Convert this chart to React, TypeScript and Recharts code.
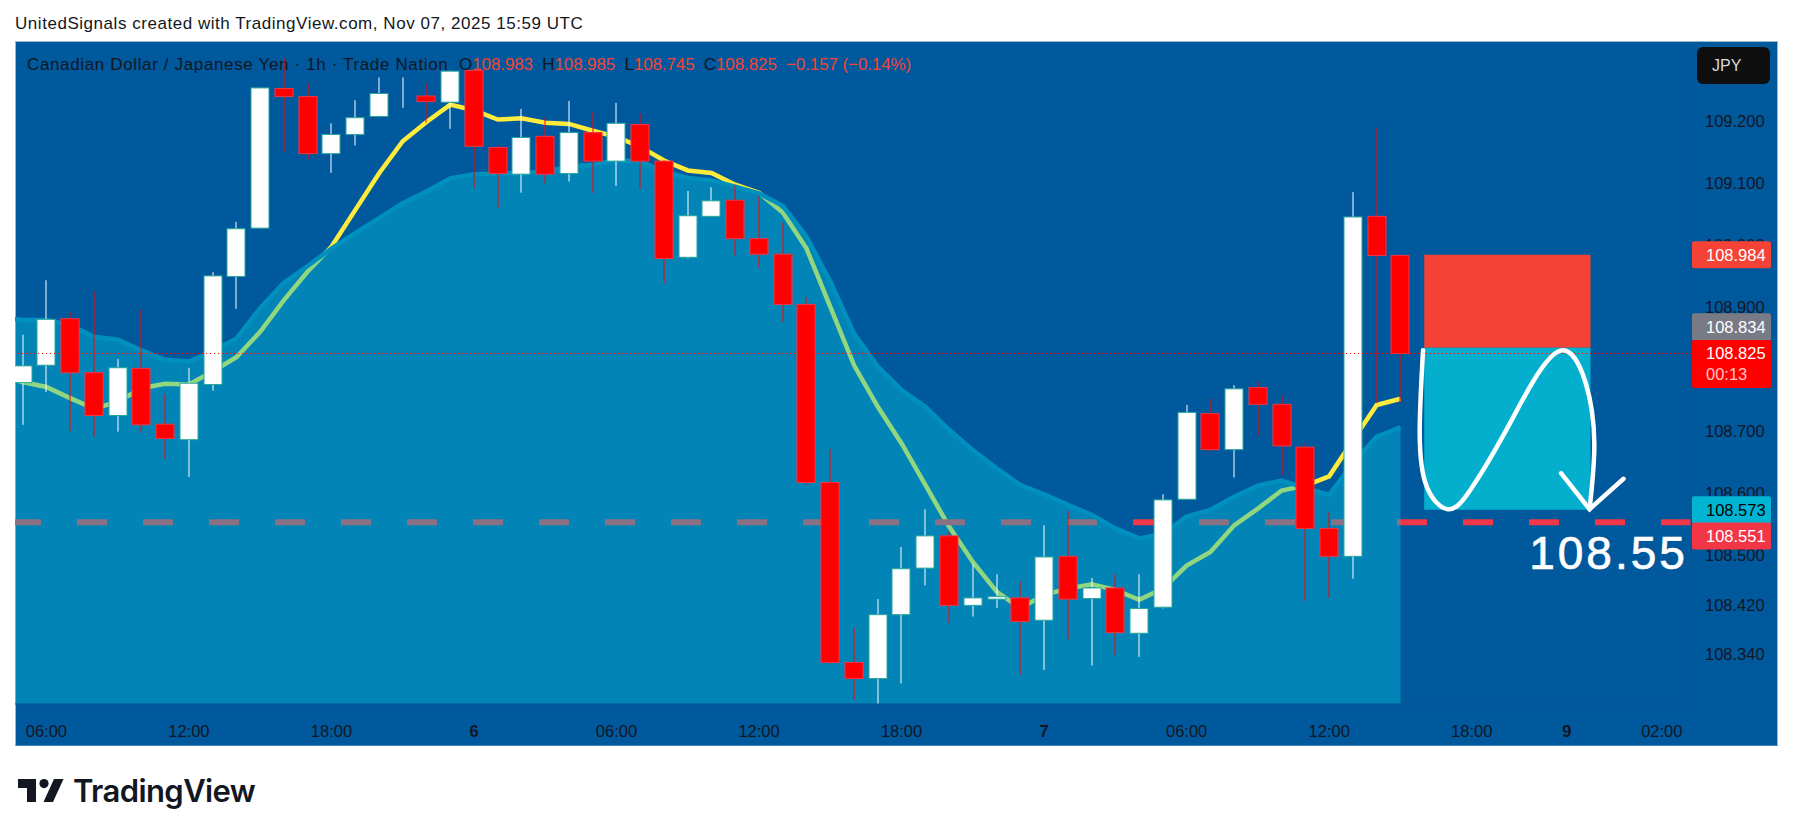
import {
	ComposedChart,
	Area,
	Bar,
	Line,
	XAxis,
	YAxis,
	ReferenceArea,
	ReferenceDot,
	ReferenceLine,
} from "recharts";

const OPENS = [
	108.778, 108.806, 108.881, 108.794, 108.725, 108.801, 108.711, 108.686, 108.775, 108.949,
	109.027, 109.252, 109.239, 109.147, 109.178, 109.207, 109.245, 109.24, 109.23, 109.281,
	109.157, 109.114, 109.175, 109.115, 109.181, 109.135, 109.194, 109.135, 108.98, 109.046,
	109.072, 109.01, 108.985, 108.904, 108.617, 108.327, 108.301, 108.404, 108.479, 108.531,
	108.419, 108.429, 108.431, 108.395, 108.498, 108.43, 108.447, 108.374, 108.416, 108.59,
	108.728, 108.67, 108.77, 108.743, 108.674, 108.543, 108.498, 109.046, 108.983,
];
const HIGHS = [
	108.855, 108.943, 108.892, 108.925, 108.816, 108.896, 108.76, 108.802, 108.956, 109.037,
	109.253, 109.301, 109.26, 109.196, 109.233, 109.27, 109.27, 109.26, 109.281, 109.281,
	109.16, 109.219, 109.205, 109.232, 109.214, 109.229, 109.212, 109.137, 109.087, 109.093,
	109.096, 109.079, 109.036, 108.915, 108.671, 108.383, 108.429, 108.513, 108.574, 108.538,
	108.486, 108.469, 108.458, 108.548, 108.571, 108.463, 108.469, 108.469, 108.598, 108.742,
	108.752, 108.774, 108.779, 108.757, 108.68, 108.569, 109.085, 109.189, 108.985,
];
const LOWS = [
	108.71, 108.763, 108.7, 108.691, 108.699, 108.697, 108.655, 108.626, 108.765, 108.897,
	109.027, 109.15, 109.138, 109.116, 109.16, 109.207, 109.221, 109.197, 109.187, 109.092,
	109.06, 109.084, 109.099, 109.102, 109.084, 109.095, 109.09, 108.938, 108.978, 109.046,
	108.983, 108.963, 108.876, 108.613, 108.325, 108.267, 108.258, 108.293, 108.451, 108.391,
	108.401, 108.415, 108.307, 108.315, 108.364, 108.322, 108.339, 108.336, 108.414, 108.59,
	108.667, 108.625, 108.693, 108.629, 108.426, 108.431, 108.462, 108.745, 108.745,
];
const CLOSES = [
	108.805, 108.88, 108.794, 108.725, 108.802, 108.71, 108.688, 108.777, 108.95, 109.026,
	109.253, 109.239, 109.147, 109.178, 109.205, 109.244, 109.245, 109.231, 109.28, 109.159,
	109.115, 109.173, 109.114, 109.181, 109.135, 109.196, 109.135, 108.978, 109.047, 109.071,
	109.01, 108.985, 108.904, 108.617, 108.327, 108.301, 108.404, 108.478, 108.531, 108.419,
	108.431, 108.433, 108.393, 108.497, 108.429, 108.447, 108.375, 108.414, 108.589, 108.73,
	108.67, 108.768, 108.743, 108.676, 108.543, 108.498, 109.045, 108.983, 108.825,
];
// the first value of both averages belongs to the bar just off the left edge
const FAST_AVG = [
	108.79, 108.779, 108.771, 108.753, 108.736, 108.747, 108.769, 108.776, 108.775, 108.796, 108.819,
	108.86, 108.911, 108.957, 108.997, 109.056, 109.115, 109.167, 109.198, 109.226, 109.217,
	109.202, 109.204, 109.197, 109.195, 109.184, 109.174, 109.158, 109.136, 109.12, 109.116,
	109.097, 109.084, 109.052, 108.994, 108.9, 108.806, 108.739, 108.68, 108.613, 108.546,
	108.489, 108.441, 108.414, 108.436, 108.446, 108.453, 108.444, 108.428, 108.446, 108.483,
	108.505, 108.548, 108.575, 108.604, 108.612, 108.627, 108.685, 108.742, 108.752,
];
const SLOW_AVG = [
	108.884, 108.879, 108.879, 108.871, 108.852, 108.847, 108.83, 108.815, 108.812, 108.828, 108.849,
	108.898, 108.939, 108.966, 108.994, 109.019, 109.043, 109.067, 109.086, 109.107, 109.114,
	109.115, 109.116, 109.118, 109.126, 109.129, 109.137, 109.134, 109.118, 109.108, 109.104,
	109.094, 109.083, 109.063, 109.013, 108.941, 108.857, 108.804, 108.766, 108.739, 108.702,
	108.669, 108.64, 108.613, 108.598, 108.581, 108.565, 108.543, 108.527, 108.534, 108.562,
	108.573, 108.594, 108.612, 108.62, 108.608, 108.597, 108.648, 108.691, 108.706,
];

const TIME_TICKS = [1, 7, 13, 19, 25, 31, 37, 43, 49, 55, 61, 65, 69];
const TIME_LABELS = ["06:00", "12:00", "18:00", "6", "06:00", "12:00", "18:00", "7", "06:00", "12:00", "18:00", "9", "02:00"];
const DAY_LABELS = ["6", "7", "9"];
const PRICE_TICKS = [109.2, 109.1, 109.0, 108.9, 108.7, 108.6, 108.5, 108.42, 108.34];

const TARGET_LINE = 108.553;
const LAST_PRICE = 108.825;
const STOP_PRICE = 108.984;
const ENTRY_PRICE = 108.834;
const PROFIT_PRICE = 108.573;
const POSITION_BARS = [59, 66];

const TAG_PRICES = [108.984, 108.834, 108.573, 108.551];
const TAG_BG = ["#F44336", "#787B86", "#00B4D2", "#F23645"];
const TAG_TEXT = ["#ffffff", "#ffffff", "#000000", "#ffffff"];
const TAG_SHIFT = [0, -21, 0, 12.5];

// hand drawn pen stroke on the chart
const PEN_X = [58.95, 58.81, 59.11, 59.99, 60.94, 62.3, 63.57, 64.84, 65.8, 66.16, 65.96];
const PEN_Y = [108.83, 108.696, 108.61, 108.574, 108.605, 108.691, 108.779, 108.83, 108.777, 108.68, 108.574];
const ARROW_X = [64.76, 65.96, 67.39];
const ARROW_Y = [108.632, 108.574, 108.623];

const Y_DOMAIN = [108.26, 109.327];
const X_MIN = -0.32;
const X_MAX = 70.23;

const chartData = SLOW_AVG.map((slow, k) => {
	const i = k - 1;
	return {
		i,
		slow,
		fast: FAST_AVG[k],
		open: OPENS[i],
		high: HIGHS[i],
		low: LOWS[i],
		close: CLOSES[i],
	};
});
const penData = PEN_X.map((i, k) => ({ i, pen: PEN_Y[k] }));
const arrowData = ARROW_X.map((i, k) => ({ i, pen: ARROW_Y[k] }));

const TEXT = "#131722";
const FONT = "'Liberation Sans', sans-serif";

const Candle = (props: any) => {
	const { x, y, width, height, payload } = props;
	if (payload.open === undefined) return null;
	const { open, high, low, close } = payload;
	const perUnit = height / (high - low);
	const yOf = (p: number) => y + (high - p) * perUnit;
	const up = close >= open;
	const mid = Math.round(x + width / 2);
	const top = yOf(Math.max(open, close));
	const bottom = yOf(Math.min(open, close));
	return (
		<g>
			<line x1={mid} x2={mid} y1={y} y2={y + height} stroke={up ? "#ffffff" : "#FF0000"} strokeWidth={1} />
			<rect
				x={mid - 9}
				y={top}
				width={18}
				height={bottom - top}
				fill={up ? "#ffffff" : "#FF0000"}
				stroke={up ? "#26A69A" : "#F23645"}
				strokeWidth={1}
			/>
		</g>
	);
};

const TimeTick = ({ x, y, payload }: any) => {
	const label = TIME_LABELS[TIME_TICKS.indexOf(payload.value)];
	return (
		<text
			x={x}
			y={y}
			textAnchor="middle"
			dominantBaseline="central"
			fill={TEXT}
			fontFamily={FONT}
			fontSize={16.5}
			fontWeight={DAY_LABELS.includes(label) ? 700 : 400}
		>
			{label}
		</text>
	);
};

const PriceTick = ({ x, y, payload }: any) => (
	<text x={x} y={y} dominantBaseline="central" fill={TEXT} fontFamily={FONT} fontSize={16.5}>
		{payload.value.toFixed(3)}
	</text>
);

const priceTag = (k: number) => (props: any) => {
	const mid = props.cy + TAG_SHIFT[k];
	return (
		<g>
			<rect x={props.cx + 1} y={mid - 13.5} width={79} height={27} rx={2} fill={TAG_BG[k]} />
			<text
				x={props.cx + 15}
				y={mid}
				dominantBaseline="central"
				fill={TAG_TEXT[k]}
				fontFamily={FONT}
				fontSize={16.5}
			>
				{TAG_PRICES[k].toFixed(3)}
			</text>
		</g>
	);
};

const lastTag = (props: any) => (
	<g>
		<rect x={props.cx + 1} y={props.cy - 13.5} width={79} height={48} rx={2} fill="#FF0000" />
		<text x={props.cx + 15} y={props.cy} dominantBaseline="central" fill="#ffffff" fontFamily={FONT} fontSize={16.5}>
			{LAST_PRICE.toFixed(3)}
		</text>
		<text x={props.cx + 15} y={props.cy + 21} dominantBaseline="central" fill="#FFC4C4" fontFamily={FONT} fontSize={16.5}>
			00:13
		</text>
	</g>
);

const targetText = (props: any) => (
	<text
		x={props.cx}
		y={props.cy}
		textAnchor="middle"
		dominantBaseline="central"
		fill="#ffffff"
		stroke="#ffffff"
		strokeWidth={0.7}
		fontFamily={FONT}
		fontSize={46}
		letterSpacing={3}
	>
		108.55
	</text>
);

const Legend = () => (
	<div
		style={{
			position: "absolute",
			left: 27,
			top: 56,
			fontFamily: FONT,
			fontSize: 17,
			lineHeight: "18px",
			color: TEXT,
			whiteSpace: "pre",
			letterSpacing: -0.1,
		}}
	>
		<span style={{ letterSpacing: 0.64 }}>{"Canadian Dollar / Japanese Yen · 1h · Trade Nation  "}</span>
		{"O"}
		<span style={{ color: "#F44336" }}>108.983</span>
		{"  H"}
		<span style={{ color: "#F44336" }}>108.985</span>
		{"  L"}
		<span style={{ color: "#F44336" }}>108.745</span>
		{"  C"}
		<span style={{ color: "#F44336" }}>108.825  −0.157 (−0.14%)</span>
	</div>
);

const Logo = () => (
	<svg style={{ position: "absolute", left: 18, top: 779 }} width={46} height={23} viewBox="0 0 46 23">
		<path d="M0 0H18V23H9V9H0Z" fill="#131722" />
		<circle cx={26} cy={4.6} r={4.6} fill="#131722" />
		<path d="M36 0H45.500L35 23H25.500Z" fill="#131722" />
	</svg>
);

const App = () => (
	<div style={{ position: "absolute", left: 0, top: 0, width: 1793, height: 836, background: "#ffffff", overflow: "hidden" }}>
		<div
			style={{
				position: "absolute",
				left: 15,
				top: 15,
				fontFamily: FONT,
				fontSize: 17,
				lineHeight: "18px",
				color: TEXT,
				whiteSpace: "pre",
				letterSpacing: 0.54,
			}}
		>
			UnitedSignals created with TradingView.com, Nov 07, 2025 15:59 UTC
		</div>
		<div
			style={{
				position: "absolute",
				left: 15,
				top: 41,
				width: 1763,
				height: 705,
				boxSizing: "border-box",
				background: "#00589D",
				border: "1px solid #9FB6CC",
				borderBottomColor: "#3F86BC",
			}}
		/>
		<Legend />
		<div style={{ position: "absolute", left: 0, top: 0 }}>
			<ComposedChart
				width={1793}
				height={836}
				data={chartData}
				margin={{ top: 42, left: 15, right: 15, bottom: 90 }}
			>
				<XAxis
					dataKey="i"
					type="number"
					domain={[X_MIN, X_MAX]}
					allowDataOverflow
					ticks={TIME_TICKS}
					interval={0}
					height={42}
					tick={<TimeTick />}
					tickLine={false}
					tickMargin={21}
					axisLine={{ stroke: "#0A5290" }}
				/>
				<YAxis
					orientation="right"
					type="number"
					domain={Y_DOMAIN}
					allowDataOverflow
					ticks={PRICE_TICKS}
					interval={0}
					width={87}
					tick={<PriceTick />}
					tickLine={false}
					tickMargin={8}
					axisLine={{ stroke: "#0A5290" }}
				/>
				<Line
					dataKey="fast"
					type="linear"
					stroke="#FFEB3B"
					strokeWidth={4.5}
					dot={false}
					isAnimationActive={false}
					zIndex={50}
				/>
				<ReferenceLine
					y={TARGET_LINE}
					stroke="#F23645"
					strokeWidth={6}
					strokeDasharray="30 36"
					zIndex={60}
				/>
				<Area
					dataKey="slow"
					type="linear"
					stroke="#0090BE"
					strokeWidth={4.5}
					fill="#04BCD6"
					fillOpacity={0.44}
					dot={false}
					isAnimationActive={false}
					zIndex={100}
				/>
				<ReferenceArea
					x1={POSITION_BARS[0]}
					x2={POSITION_BARS[1]}
					y1={STOP_PRICE}
					y2={ENTRY_PRICE}
					fill="#F44336"
					fillOpacity={1}
					zIndex={110}
				/>
				<ReferenceArea
					x1={POSITION_BARS[0]}
					x2={POSITION_BARS[1]}
					y1={ENTRY_PRICE}
					y2={PROFIT_PRICE}
					fill="#03AFCD"
					fillOpacity={1}
					zIndex={110}
				/>
				<Bar
					dataKey={(d: any) => (d.open === undefined ? null : [d.low, d.high])}
					barSize={18}
					shape={<Candle />}
					isAnimationActive={false}
					zIndex={300}
				/>
				<ReferenceLine y={LAST_PRICE} stroke="#FF0000" strokeWidth={1} strokeDasharray="1 3" zIndex={350} />
				<Line
					data={penData}
					dataKey="pen"
					type="natural"
					stroke="#ffffff"
					strokeWidth={4.5}
					strokeLinecap="round"
					dot={false}
					isAnimationActive={false}
					zIndex={400}
				/>
				<Line
					data={arrowData}
					dataKey="pen"
					type="linear"
					stroke="#ffffff"
					strokeWidth={4.5}
					strokeLinecap="round"
					dot={false}
					isAnimationActive={false}
					zIndex={400}
				/>
				<ReferenceDot x={66.76} y={108.504} r={0} shape={targetText} zIndex={410} />
			</ComposedChart>
		</div>
		{/* price tags sit above the axis labels, so they get their own layer on the same scales */}
		<div style={{ position: "absolute", left: 0, top: 0 }}>
			<ComposedChart
				width={1793}
				height={836}
				data={chartData}
				margin={{ top: 42, left: 15, right: 102, bottom: 132 }}
			>
				<XAxis dataKey="i" type="number" domain={[X_MIN, X_MAX]} allowDataOverflow hide />
				<YAxis type="number" domain={Y_DOMAIN} allowDataOverflow hide />
				{TAG_PRICES.map((p, k) => (
					<ReferenceDot key={p} x={X_MAX} y={p} r={0} ifOverflow="visible" shape={priceTag(k)} />
				))}
				<ReferenceDot x={X_MAX} y={LAST_PRICE} r={0} ifOverflow="visible" shape={lastTag} />
			</ComposedChart>
		</div>
		<div
			style={{
				position: "absolute",
				left: 1697,
				top: 47,
				width: 73,
				height: 37,
				borderRadius: 6,
				background: "#0F0F0F",
				color: "#DBDBDB",
				fontFamily: FONT,
				fontSize: 16,
				lineHeight: "37px",
				paddingLeft: 15,
				boxSizing: "border-box",
			}}
		>
			JPY
		</div>
		<Logo />
		<div
			style={{
				position: "absolute",
				left: 73,
				top: 773,
				fontFamily: "Inter, sans-serif",
				fontSize: 31,
				lineHeight: "36px",
				fontWeight: 600,
				color: "#131722",
				letterSpacing: -0.6,
			}}
		>
			TradingView
		</div>
	</div>
);

export default App;
